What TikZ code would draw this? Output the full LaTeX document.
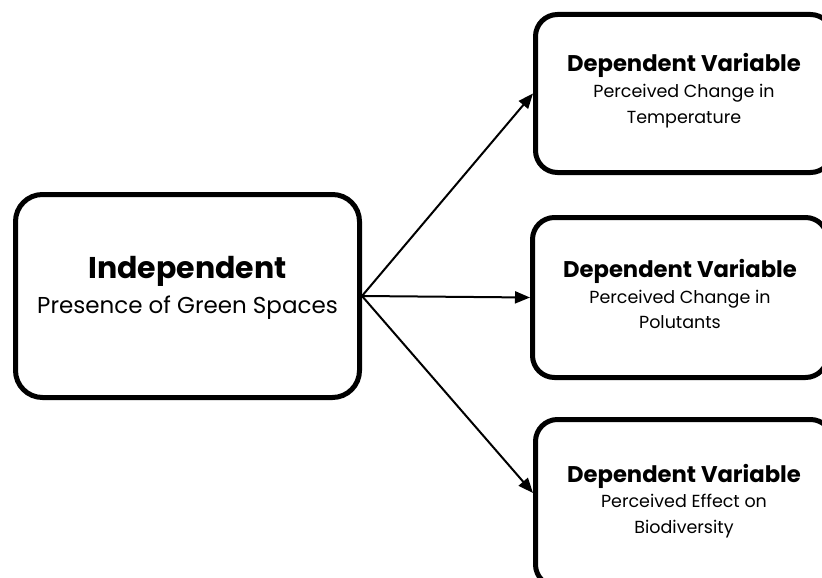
\documentclass[tikz,border=0pt]{standalone}
\usepackage{fontspec}
\setmainfont{Poppins}
\usetikzlibrary{arrows.meta}
\begin{document}
\begin{tikzpicture}[x=1pt,y=-1pt,
  bigbox/.style={draw=black, line width=5pt, rounded corners=27pt, inner sep=0pt},
  depbox/.style={draw=black, line width=5pt, rounded corners=22pt, inner sep=0pt},
  conn/.style={line width=2pt, -{Triangle[length=15pt,width=12pt]}},
  titlebig/.style={anchor=base, inner sep=0pt, font=\fontsize{30}{34}\selectfont\bfseries},
  subbig/.style={anchor=base, inner sep=0pt, font=\fontsize{23}{26}\selectfont},
  titledep/.style={anchor=base, inner sep=0pt, font=\fontsize{22.7}{26}\selectfont\bfseries},
  subdep/.style={anchor=base, inner sep=0pt, font=\fontsize{17.5}{20}\selectfont},
]
\useasboundingbox (0,0) rectangle (822,578);

\node[bigbox, minimum width=344pt, minimum height=203pt] (ind) at (187.5,296) {};
\node[depbox, minimum width=297pt, minimum height=158pt] (dtop) at (684,93.5) {};
\node[depbox, minimum width=295pt, minimum height=160pt] (dmid) at (680,297.5) {};
\node[depbox, minimum width=297pt, minimum height=167pt] (dbot) at (684,503) {};

\node[titlebig] (indt) at (187.5,278) {Independent};
\node[subbig] (inds) at (187.5,313) {Presence of Green Spaces};

\node[titledep] (topt) at (684,72) {Dependent Variable};
\node[subdep] (tops1) at (684,97) {Perceived Change in};
\node[subdep] (tops2) at (684,123) {Temperature};

\node[titledep] (midt) at (680,277) {Dependent Variable};
\node[subdep] (mids1) at (680,303) {Perceived Change in};
\node[subdep] (mids2) at (680,328) {Polutants};

\node[titledep] (bott) at (684,482) {Dependent Variable};
\node[subdep] (bots1) at (684,507) {Perceived Effect on};
\node[subdep] (bots2) at (684,533) {Biodiversity};

\draw[conn] (ind.east) -- (dtop.west);
\draw[conn] (ind.east) -- (dmid.west);
\draw[conn] (ind.east) -- ([yshift=10pt]dbot.west);
\end{tikzpicture}
\end{document}
